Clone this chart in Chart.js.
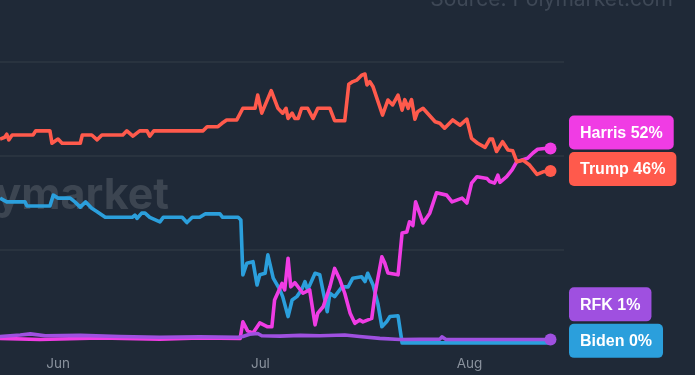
<!DOCTYPE html>
<html>
<head>
<meta charset="utf-8">
<script src="https://cdn.jsdelivr.net/npm/chart.js@4.4.1/dist/chart.umd.min.js"></script>
<style>
  html, body { margin: 0; padding: 0; background: #1f2937; overflow: hidden; }
  #wrap { width: 695px; height: 375px; }
</style>
</head>
<body>
<div id="wrap"><canvas id="oddsChart" width="695" height="375"></canvas></div>
<script>
// Days counted from Jun 1 (0 = Jun 1, 30 = Jul 1, 61 = Aug 1)
const TICK_DAYS = [0, 30, 61];
const TICK_LABELS = ["Jun", "Jul", "Aug"];
const X_MIN = -8.6;
const X_MAX = 75;

const NAMES = ["Harris", "Trump", "RFK", "Biden"];
const END_LABELS = ["Harris 52%", "Trump 46%", "RFK 1%", "Biden 0%"];

// [day, percent]
const HARRIS = [
  [-8.6,1.5],[-2.7,1.2],[6.2,1.6],[15.1,1.3],[21.0,1.6],[27.0,1.5],
  [27.4,5.9],[28.1,3.5],[28.9,2.9],[29.9,5.6],[31.0,4.6],[31.7,4.6],[32.1,11.7],
  [33.2,16.1],[33.6,14.4],[34.1,22.8],[34.5,15.2],[35.1,16.3],[36.3,13.5],[37.3,14.4],
  [38.1,5.1],[38.5,8.2],[39.3,9.9],[40.3,15.2],[41.0,20.1],[41.8,17.0],[42.5,13.5],
  [43.3,8.2],[44.0,5.5],[44.7,6.4],[45.2,5.9],[46.5,6.8],[47.0,13.5],[48.0,23.2],
  [48.4,21.7],[48.9,18.9],[50.4,18.4],[51.0,29.5],[51.7,29.8],[52.1,32.5],[52.6,31.5],
  [53.0,37.8],[54.1,32.2],[55.1,34.8],[56.1,40.2],[57.6,39.6],[58.4,37.8],[59.9,38.8],
  [60.6,37.5],[61.3,42.8],[62.1,44.5],[63.6,44.0],[64.0,43.2],[64.7,42.8],[65.2,44.9],
  [65.5,43.0],[66.5,44.5],[67.3,46.3],[68.0,48.5],[68.9,49.0],[69.6,49.4],[70.4,50.8],
  [71.1,51.8],[72.1,52.0],[73.0,52.0]
];

const TRUMP = [
  [-8.6,54.5],[-7.9,55.0],[-7.6,55.8],[-7.3,54.3],[-6.8,55.6],[-3.7,55.6],[-3.3,56.7],
  [-1.2,56.7],[-0.9,53.4],[0,54.5],[0.6,53.4],[3.3,53.4],[3.6,55.6],[5.0,55.6],
  [5.8,54.3],[6.5,55.6],[9.6,55.6],[10.2,56.7],[11.1,55.3],[12.1,56.7],[13.2,56.7],
  [13.6,55.3],[14.2,56.7],[21.5,56.7],[22.1,57.8],[23.7,57.8],[24.3,58.7],[25.0,59.6],
  [26.5,59.6],[27.4,62.7],[29.2,62.7],[29.6,66.2],[30.2,61.4],[31.6,67.4],[32.6,62.7],
  [33.3,61.4],[33.8,62.7],[34.1,60.0],[34.7,61.4],[35.1,60.0],[35.6,60.0],[36.1,62.7],
  [37.0,62.7],[37.8,60.0],[38.5,62.7],[40.3,62.7],[41.0,59.4],[42.5,59.4],[43.1,69.1],
  [43.7,69.8],[44.3,70.2],[45.0,71.5],[45.5,71.8],[45.8,68.9],[46.2,69.8],[46.7,68.4],
  [48.1,60.9],[48.9,64.9],[49.6,63.6],[50.4,66.2],[51.0,62.2],[51.4,65.0],[51.9,62.7],
  [52.4,65.0],[52.9,59.8],[53.3,61.8],[54.1,62.7],[54.8,61.3],[55.9,59.1],[56.6,58.7],
  [57.3,57.4],[58.5,59.6],[59.6,58.2],[60.6,59.8],[61.3,54.7],[62.2,53.4],[63.3,52.3],
  [64.0,54.5],[64.4,54.5],[65.0,51.2],[65.9,53.8],[66.7,51.6],[67.4,51.4],[68.0,48.5],
  [68.9,48.9],[69.9,47.6],[71.0,45.1],[71.9,45.8],[73.0,46.0]
];

const RFK = [
  [-8.6,2.0],[-5.6,2.4],[-4.1,2.7],[-1.9,2.2],[3.3,2.3],[9.2,2.0],[15.1,1.8],[21.0,1.9],
  [26.7,1.8],[27.4,2.0],[28.4,2.6],[29.6,2.8],[30.2,2.2],[32.9,2.1],[35.9,2.3],[38.8,2.2],
  [42.5,2.4],[44.7,2.0],[47.7,1.5],[50.7,1.2],[56.6,1.3],[56.9,1.9],[57.5,1.2],[65.5,1.2],
  [73.0,1.2]
];

const BIDEN = [
  [-8.6,38.8],[-7.6,37.8],[-4.9,37.8],[-4.6,36.7],[-1.2,36.7],[-0.7,39.6],[0,38.8],
  [1.8,38.8],[2.5,37.8],[3.3,36.4],[4.1,37.8],[5.0,36.1],[5.8,35.2],[7.0,33.7],[11.0,33.7],
  [11.4,34.3],[11.7,33.4],[12.4,34.8],[12.9,34.8],[13.6,33.7],[15.1,32.5],[15.6,33.7],
  [18.4,33.7],[19.1,32.3],[19.9,33.7],[21.0,33.7],[21.8,34.6],[24.0,34.6],[24.4,33.7],
  [26.7,33.7],[27.1,33.0],[27.4,18.4],[28.0,21.5],[28.9,21.9],[29.5,15.7],[29.9,18.4],
  [30.7,18.8],[31.1,23.7],[31.9,17.5],[32.9,14.4],[33.3,12.6],[34.1,7.3],[34.7,11.7],
  [35.4,12.6],[36.1,14.4],[36.6,16.6],[37.0,14.4],[38.1,18.8],[38.8,18.4],[39.9,8.6],
  [40.3,13.5],[41.0,12.6],[42.1,15.2],[43.0,15.2],[43.7,17.5],[45.0,17.9],[45.5,16.6],
  [45.9,18.8],[46.7,15.7],[47.4,10.8],[48.0,4.6],[48.7,5.9],[49.2,7.3],[50.4,7.5],
  [51.0,0.3],[73.0,0.3]
];

const SERIES = [HARRIS, TRUMP, RFK, BIDEN];
const COLORS = ["#f03ce4", "#ff5a4c", "#9f50e0", "#2b9fdc"];
const DRAW_ORDER = [2, 1, 0, 3];
// end dot size; Biden's sits hidden under RFK's
const DOT_RADIUS = [6, 6, 6, 0];

// watermark behind the lines, source note on top
const watermarkPlugin = {
  id: "watermark",
  beforeDatasetsDraw(chart) {
    const ctx = chart.ctx;
    ctx.save();
    ctx.font = "700 43px Inter, sans-serif";
    ctx.fillStyle = "#3c4551";
    ctx.textAlign = "right";
    ctx.textBaseline = "alphabetic";
    ctx.fillText("Polymarket", 169, 209);
    ctx.restore();
  },
  afterDraw(chart) {
    const ctx = chart.ctx;
    ctx.save();
    ctx.font = "400 21px Inter, sans-serif";
    ctx.fillStyle = "#3e4856";
    ctx.textAlign = "right";
    ctx.textBaseline = "alphabetic";
    ctx.fillText("Source: Polymarket.com", 673, 6);
    ctx.restore();
  },
};

// coloured boxes at line ends, pushed up when they collide
const endLabelPlugin = {
  id: "endLabels",
  afterDatasetsDraw(chart) {
    const { ctx, chartArea } = chart;
    const items = chart.data.datasets.map((ds, i) => {
      const meta = chart.getDatasetMeta(i);
      const pt = meta.data[meta.data.length - 1];
      return { y: pt.y - 2, text: END_LABELS[i], color: ds.borderColor };
    });
    items.sort((a, b) => b.y - a.y);
    let prev = Infinity;
    items.forEach((it) => {
      it.c = Math.min(it.y, prev - 36.5);
      prev = it.c;
    });

    ctx.save();
    ctx.font = "bold 16px 'Liberation Sans', Arial, sans-serif";
    ctx.textBaseline = "middle";
    items.forEach((it) => {
      const w = ctx.measureText(it.text).width + 22;
      const x = chartArea.right + 5;
      const h = 34;
      ctx.fillStyle = it.color;
      ctx.beginPath();
      ctx.roundRect(x, it.c - h / 2, w, h, 5);
      ctx.fill();
      ctx.fillStyle = "#ffffff";
      ctx.fillText(it.text, x + 11, it.c + 1);
    });
    ctx.restore();
  },
};

const ctx = document.getElementById("oddsChart").getContext("2d");

new Chart(ctx, {
  type: "line",
  data: {
    datasets: SERIES.map((s, i) => ({
      label: NAMES[i],
      data: s.map((p) => ({ x: p[0], y: p[1] })),
      borderColor: COLORS[i],
      backgroundColor: COLORS[i],
      borderWidth: 3.6,
      borderJoinStyle: "round",
      tension: 0,
      order: DRAW_ORDER[i],
      clip: false,
      pointRadius: (c) => (c.dataIndex === s.length - 1 ? DOT_RADIUS[i] : 0),
      pointBorderWidth: 0,
      pointBackgroundColor: COLORS[i],
      pointHoverRadius: 0,
    })),
  },
  options: {
    responsive: false,
    animation: false,
    layout: { autoPadding: false, padding: { left: 0, right: 131, top: 0, bottom: 3 } },
    plugins: {
      legend: { display: false },
      tooltip: { enabled: false },
    },
    scales: {
      x: {
        type: "linear",
        min: X_MIN,
        max: X_MAX,
        grid: { display: false, drawTicks: false },
        border: { display: false },
        afterBuildTicks: (scale) => {
          scale.ticks = TICK_DAYS.map((v) => ({ value: v }));
        },
        afterFit: (scale) => {
          scale.height = 28;
          scale.paddingLeft = 0;
          scale.paddingRight = 0;
        },
        ticks: {
          padding: 12,
          color: "#8a929d",
          font: { family: "Inter, sans-serif", size: 13.5 },
          maxRotation: 0,
          callback: (v) => TICK_LABELS[TICK_DAYS.indexOf(v)] || "",
        },
      },
      y: {
        min: 0,
        max: 91.5,
        border: { display: false },
        afterBuildTicks: (scale) => {
          scale.ticks = [25, 50, 75].map((v) => ({ value: v }));
        },
        afterFit: (scale) => {
          scale.width = 0;
          scale.paddingTop = 0;
          scale.paddingBottom = 0;
        },
        grid: { color: "#29333f", lineWidth: 2, drawTicks: false },
        ticks: { display: false },
      },
    },
  },
  plugins: [watermarkPlugin, endLabelPlugin],
});
</script>
</body>
</html>
